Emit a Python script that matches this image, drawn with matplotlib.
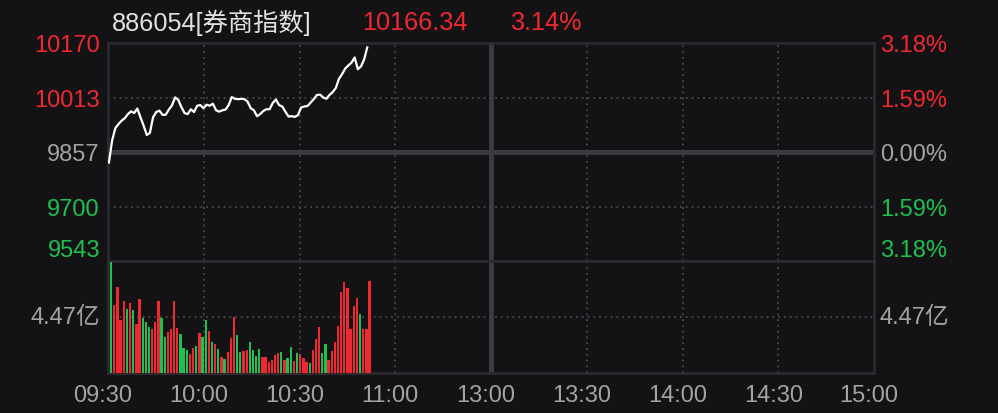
#!/usr/bin/env python
"""Intraday chart for 886054 [券商指数] - price line plus minute volume."""
import matplotlib
matplotlib.use("Agg")
import matplotlib.pyplot as plt
import numpy as np

plt.rcParams["font.family"] = ["Liberation Sans", "Noto Sans CJK SC", "DejaVu Sans"]

# ---- data -------------------------------------------------------------
code_name = "886054[券商指数]"
last_price = "10166.34"
last_change = "3.14%"
prev_close = 9857.0

price = [
    9827, 9890, 9925, 9937, 9947, 9954, 9966, 9974, 9969, 9982,
    9957, 9933, 9906, 9912, 9957, 9972, 9976, 9964, 9964, 9979,
    9991, 10014, 10007, 9986, 9969, 9966, 9980, 9972, 9990, 9992,
    9983, 9993, 9990, 9996, 9977, 9973, 9977, 9979, 9992, 10015,
    10010, 10009, 10010, 10009, 10002, 9983, 9977, 9960, 9966, 9975,
    9980, 9980, 9998, 10008, 9992, 9988, 9973, 9959, 9960, 9958,
    9963, 9985, 9988, 9989, 9999, 10009, 10021, 10022, 10014, 10010,
    10021, 10029, 10041, 10067, 10081, 10097, 10106, 10114, 10129, 10095,
    10103, 10123, 10158,
]

# minute turnover, unit: 亿
volume = [
    8.86, 5.40, 6.83, 4.25, 5.73, 5.07, 5.57, 4.99, 3.92, 5.90,
    4.41, 4.09, 3.67, 3.51, 4.09, 5.73, 4.41, 2.85, 3.26, 3.51,
    5.73, 3.59, 3.10, 2.03, 1.86, 1.54, 2.03, 2.19, 3.18, 2.85,
    4.25, 3.35, 2.44, 2.28, 1.95, 1.29, 1.12, 1.70, 2.77, 4.50,
    3.02, 1.70, 1.78, 1.86, 2.44, 1.86, 1.37, 1.95, 1.29, 1.29,
    0.88, 1.04, 1.45, 1.62, 1.70, 1.04, 1.21, 2.11, 0.96, 1.62,
    1.54, 1.21, 0.88, 0.80, 1.86, 2.69, 3.67, 1.62, 2.28, 1.04,
    1.78, 2.44, 3.76, 6.47, 7.29, 6.80, 3.51, 5.32, 5.98, 4.74,
    3.51, 3.51, 7.38,
]
# 1 = up (red), 0 = down (green)
vol_up = [
    0, 1, 1, 1, 1, 0, 1, 0, 1, 1,
    0, 0, 0, 1, 1, 1, 0, 0, 1, 1,
    1, 1, 0, 0, 0, 1, 1, 0, 1, 0,
    0, 1, 0, 1, 0, 1, 0, 1, 1, 1,
    0, 0, 1, 1, 0, 0, 0, 0, 1, 1,
    1, 1, 1, 1, 0, 1, 0, 0, 1, 0,
    1, 1, 1, 0, 1, 1, 1, 0, 0, 1,
    1, 1, 1, 1, 1, 1, 1, 1, 1, 0,
    1, 1, 1,
]

price_ticks = [10170, 10013, 9857, 9700, 9543]
pct_labels = ["3.18%", "1.59%", "0.00%", "1.59%", "3.18%"]
vol_mid = 4.47
time_labels = ["09:30", "10:00", "10:30", "11:00", "13:00", "13:30", "14:00", "14:30", "15:00"]

# ---- style ------------------------------------------------------------
BG = "#131316"
RED = "#f0282f"
GREEN = "#1ec04f"
GRAY_TXT = "#a3a3a6"
GRID = "#48484d"
FRAME = "#2b2b2f"
THICK = "#3c3c40"
FS = 17
FS_HEAD = 18.2
SLOT = 0.987  # the app packs minute slots slightly tighter than the time grid

W, H = 998, 414
fig = plt.figure(figsize=(W / 100, H / 100), dpi=100, facecolor=BG)

L, R = 108, 874
T, MID, B = 44, 262, 374


def add_ax(top, bottom):
    ax = fig.add_axes([L / W, 1 - bottom / H, (R - L) / W, (bottom - top) / H])
    ax.set_facecolor(BG)
    for s in ax.spines.values():
        s.set_color(FRAME)
        s.set_linewidth(2)
    ax.set_xticks([])
    ax.set_yticks([])
    ax.set_xlim(0, 240)
    return ax


ax_p = add_ax(T, MID)
ax_v = add_ax(MID, B)

slots = np.arange(len(price)) * SLOT
half = (price_ticks[0] - price_ticks[-1]) / 2
ax_p.set_ylim(prev_close - half, prev_close + half)
ax_v.set_ylim(0, vol_mid * 2)

dot = dict(color=GRID, lw=1.3, linestyle=(0, (1, 2.2)), zorder=1)
for ax in (ax_p, ax_v):
    for m in (30, 60, 90, 150, 180, 210):
        ax.axvline(m, **dot)
    ax.axvline(120, color=THICK, lw=3.5, zorder=1)

for v in (price_ticks[1], price_ticks[3]):
    ax_p.axhline(v, **dot)
ax_p.axhline(prev_close, color=THICK, lw=3.5, zorder=1)
ax_v.axhline(vol_mid, **dot)

ax_p.plot(slots + 0.3, price, color="white", lw=1.6, zorder=3, solid_joinstyle="round")

bar_colors = [RED if u else GREEN for u in vol_up]
ax_v.bar(slots + 1.0, volume, width=0.72, color=bar_colors, linewidth=0,
         zorder=3, align="center")

# ---- labels -----------------------------------------------------------
tick_colors = [RED, RED, GRAY_TXT, GREEN, GREEN]
for i, (val, pct, col) in enumerate(zip(price_ticks, pct_labels, tick_colors)):
    ypx = T + (MID - T) * (1 - (val - (prev_close - half)) / (2 * half)) + 2
    if i == len(price_ticks) - 1:
        ypx -= 13
    fig.text((L - 8) / W, 1 - ypx / H, f"{val}", color=col, fontsize=FS, ha="right", va="center")
    fig.text((R + 6) / W, 1 - ypx / H, pct, color=col, fontsize=FS, ha="left", va="center")

vol_y = 1 - (MID + (B - MID) / 2) / H
fig.text((L - 8) / W, vol_y, f"{vol_mid}亿", color=GRAY_TXT, fontsize=FS, ha="right", va="center")
fig.text((R + 6) / W, vol_y, f"{vol_mid}亿", color=GRAY_TXT, fontsize=FS, ha="left", va="center")

for k, lab in enumerate(time_labels):
    xpx = L + k * (R - L) / 8 - 5
    fig.text(xpx / W, 1 - 396 / H, lab, color=GRAY_TXT, fontsize=FS, ha="center", va="center")

fig.text(112 / W, 1 - 23 / H, code_name, color="#e2e2e2", fontsize=FS_HEAD, ha="left", va="center")
fig.text(362 / W, 1 - 23 / H, last_price, color=RED, fontsize=FS_HEAD, ha="left", va="center")
fig.text(511 / W, 1 - 23 / H, last_change, color=RED, fontsize=FS_HEAD, ha="left", va="center")

fig.savefig("out.png", dpi=100, facecolor=BG)
